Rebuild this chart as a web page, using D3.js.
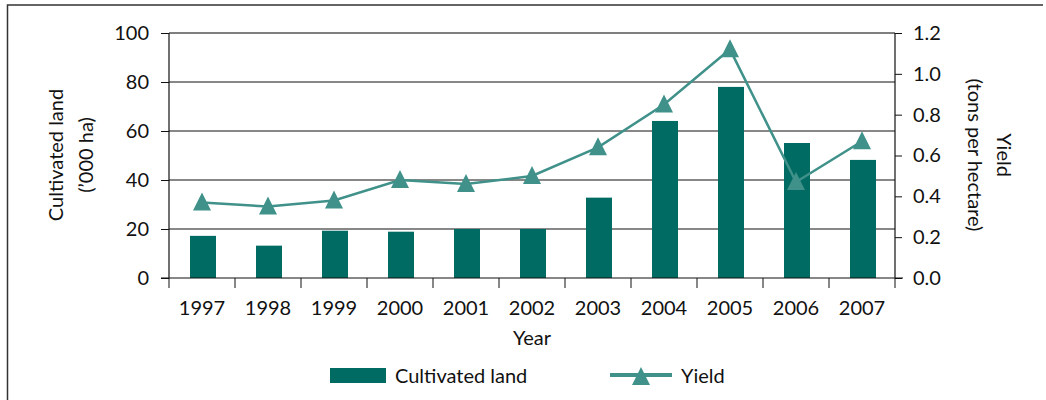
<!DOCTYPE html>
<html>
<head>
<meta charset="utf-8">
<script src="https://cdn.jsdelivr.net/npm/d3@7"></script>
<style>
  body { margin: 0; background: #fff; }
  text { font-family: Lato, "Open Sans", sans-serif; fill: #111; }
</style>
</head>
<body>
<script>
// Data
var years = ["1997", "1998", "1999", "2000", "2001", "2002", "2003", "2004", "2005", "2006", "2007"];
var cultivated = [17.2, 13.2, 19.3, 18.9, 20, 20, 32.8, 64.1, 78, 55.1, 48.2];
var yieldVals = [0.37, 0.35, 0.38, 0.48, 0.46, 0.50, 0.64, 0.85, 1.12, 0.47, 0.67];
var leftTicks = [0, 20, 40, 60, 80, 100];
var rightTicks = [0, 0.2, 0.4, 0.6, 0.8, 1.0, 1.2];

var W = 1046, H = 400;
var margin = {top: 33, right: 151, bottom: 122, left: 169},
    width = W - margin.left - margin.right,
    height = H - margin.top - margin.bottom;

var barColor = "#006b63", lineColor = "#3f918a";
var fs = "20px";

var svg = d3.select("body").append("svg")
  .attr("width", W)
  .attr("height", H);

// Outer frame (top and left edges only visible)
svg.append("path")
  .attr("d", "M7.5,400 V5 H1043")
  .attr("fill", "none")
  .attr("stroke", "#333")
  .attr("stroke-width", 1.5);

var g = svg.append("g")
  .attr("transform", "translate(" + margin.left + "," + margin.top + ")");

var xb = d3.scaleBand().domain(years).range([0, width]);
var yL = d3.scaleLinear().domain([0, 100]).range([height, 0]);
var yR = d3.scaleLinear().domain([0, 1.2]).range([height, 0]);

// Gridlines
g.append("g")
  .selectAll("line")
  .data(leftTicks.slice(1))
  .enter().append("line")
  .attr("x1", 0).attr("x2", width)
  .attr("y1", function(d) { return yL(d); })
  .attr("y2", function(d) { return yL(d); })
  .attr("stroke", function(d) { return d === 100 ? "#555" : "#111"; })
  .attr("stroke-width", function(d) { return d === 100 ? 1.5 : 1; });

// Bars
g.selectAll("rect.bar")
  .data(years)
  .enter().append("rect")
  .attr("class", "bar")
  .attr("x", function(d) { return xb(d) + xb.bandwidth() / 2 - 12; })
  .attr("width", 26)
  .attr("y", function(d, i) { return yL(cultivated[i]); })
  .attr("height", function(d, i) { return height - yL(cultivated[i]); })
  .attr("fill", barColor);

// Left axis
var axL = g.append("g")
  .call(d3.axisLeft(yL).tickValues(leftTicks).tickSize(8).tickPadding(12));
// Right axis
var axR = g.append("g")
  .attr("transform", "translate(" + width + ",0)")
  .call(d3.axisRight(yR).tickValues(rightTicks).tickSize(7).tickPadding(11).tickFormat(d3.format(".1f")));
// Bottom axis with ticks at band boundaries
var axB = g.append("g")
  .attr("transform", "translate(0," + height + ")")
  .call(d3.axisBottom(xb).tickSize(0).tickPadding(23));
g.append("g")
  .selectAll("line")
  .data(years.concat(["end"]))
  .enter().append("line")
  .attr("x1", function(d, i) { return i * xb.step(); })
  .attr("x2", function(d, i) { return i * xb.step(); })
  .attr("y1", height).attr("y2", height + 10)
  .attr("stroke", "#111");

[axL, axR, axB].forEach(function(a) {
  a.selectAll("path.domain").attr("stroke", "#111").attr("stroke-width", 1.2);
  a.selectAll(".tick line").attr("stroke", "#111");
  a.selectAll(".tick text").style("font-size", fs).style("font-family", "Lato, sans-serif").attr("fill", "#111");
});
axL.select("path.domain").attr("d", "M0," + height + "V0");
axR.select("path.domain").attr("d", "M0," + height + "V0");
axB.select("path.domain").attr("d", "M-8,0H" + (width + 8));

// Yield line
var line = d3.line()
  .x(function(d, i) { return xb(years[i]) + xb.bandwidth() / 2; })
  .y(function(d) { return yR(d); });
g.append("path")
  .datum(yieldVals)
  .attr("d", line)
  .attr("fill", "none")
  .attr("stroke", lineColor)
  .attr("stroke-width", 2.5);

// Triangle marker, ~18 wide, ~18 tall
var tri = "M0,-10L9,8L-9,8Z";
g.selectAll("path.mark")
  .data(yieldVals)
  .enter().append("path")
  .attr("class", "mark")
  .attr("d", tri)
  .attr("transform", function(d, i) {
    return "translate(" + (xb(years[i]) + xb.bandwidth() / 2) + "," + yR(d) + ")";
  })
  .attr("fill", lineColor);

// Axis titles
svg.append("text")
  .attr("transform", "translate(63,155) rotate(-90)")
  .attr("text-anchor", "middle")
  .style("font-size", fs)
  .text("Cultivated land");
svg.append("text")
  .attr("transform", "translate(93,155) rotate(-90)")
  .attr("text-anchor", "middle")
  .style("font-size", fs)
  .text("(\u2019000 ha)");

svg.append("text")
  .attr("transform", "translate(997,155) rotate(90)")
  .attr("text-anchor", "middle")
  .style("font-size", fs)
  .text("Yield");
svg.append("text")
  .attr("transform", "translate(968,155) rotate(90)")
  .attr("text-anchor", "middle")
  .style("font-size", fs)
  .text("(tons per hectare)");

svg.append("text")
  .attr("x", margin.left + width / 2)
  .attr("y", 345)
  .attr("text-anchor", "middle")
  .style("font-size", fs)
  .text("Year");

// Legend
var leg = svg.append("g");
leg.append("rect")
  .attr("x", 330).attr("y", 368).attr("width", 56).attr("height", 15)
  .attr("fill", barColor);
leg.append("text")
  .attr("x", 395).attr("y", 383)
  .style("font-size", fs)
  .text("Cultivated land");
leg.append("line")
  .attr("x1", 610).attr("x2", 672).attr("y1", 375).attr("y2", 375)
  .attr("stroke", lineColor).attr("stroke-width", 4);
leg.append("path")
  .attr("d", tri)
  .attr("transform", "translate(641,377)")
  .attr("fill", lineColor);
leg.append("text")
  .attr("x", 681).attr("y", 383)
  .style("font-size", fs)
  .text("Yield");
</script>
</body>
</html>
